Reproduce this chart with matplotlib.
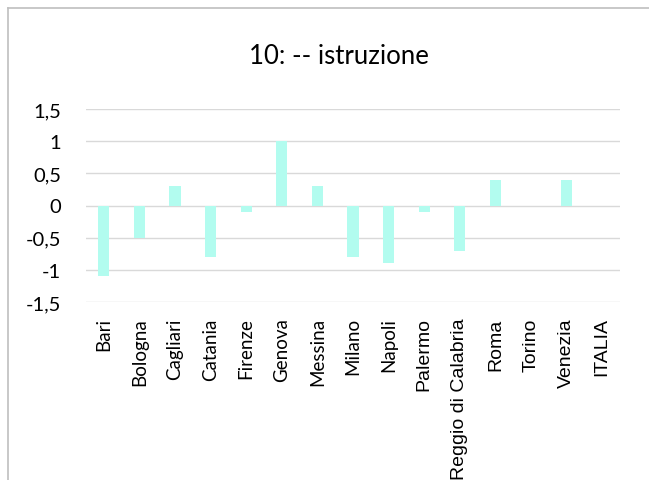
import matplotlib
matplotlib.use("Agg")
import matplotlib.pyplot as plt
from matplotlib.lines import Line2D

categories = ["Bari", "Bologna", "Cagliari", "Catania", "Firenze", "Genova", "Messina",
              "Milano", "Napoli", "Palermo", "Reggio di Calabria", "Roma", "Torino",
              "Venezia", "ITALIA"]
values = [-1.1, -0.5, 0.3, -0.8, -0.1, 1.0, 0.3, -0.8, -0.9, -0.1, -0.7, 0.4, 0.0, 0.4, 0.0]
yticks = [-1.5, -1.0, -0.5, 0.0, 0.5, 1.0, 1.5]
ytick_labels = ["-1,5", "-1", "-0,5", "0", "0,5", "1", "1,5"]
title = "10: -- istruzione"

W, H = 649, 481
fig = plt.figure(figsize=(W / 100, H / 100), dpi=100)
fig.patch.set_facecolor("white")

ax = fig.add_axes([86 / W, 1 - 303 / H, (620 - 86) / W, (303 - 110) / H])
x = list(range(len(categories)))
ax.bar(x, values, width=0.31, color="#B2FCEF", zorder=3)
ax.set_xlim(-0.5, len(categories) - 0.5)
ax.set_ylim(-1.5, 1.5)
ax.set_yticks(yticks)
ax.set_yticklabels(ytick_labels, fontfamily="Lato", fontsize=14.5, color="#000000")
ax.set_xticks(x)
ax.set_xticklabels(categories, rotation=90, fontsize=13, color="#000000",
                   va="top", ha="center")
for i, lab in enumerate(ax.get_xticklabels()):
    if i < 9:
        lab.set_fontfamily("Lato")
        lab.set_fontsize(13.5)
    else:
        lab.set_fontfamily("Liberation Sans")
        lab.set_fontsize(14)
ax.tick_params(axis="both", length=0)
ax.tick_params(axis="y", pad=18)
ax.tick_params(axis="x", pad=11)
ax.yaxis.grid(True, color="#D9D9D9", linewidth=1.0, zorder=0)
ax.set_axisbelow(True)
for s in ax.spines.values():
    s.set_visible(False)

fig.text((248 + 430) / 2 / W, 1 - 57 / H, title, ha="center", va="center",
         fontfamily="Lato", fontsize=18.5, color="#000000")

# chart border (left and top edges visible)
fig.add_artist(Line2D([7.5 / W, 7.5 / W], [0, 1 - 8.5 / H], transform=fig.transFigure,
                      color="#BFBFBF", linewidth=1.2))
fig.add_artist(Line2D([7.5 / W, 1], [1 - 8.5 / H, 1 - 8.5 / H], transform=fig.transFigure,
                      color="#BFBFBF", linewidth=1.2))

fig.savefig("out.png", dpi=100)
